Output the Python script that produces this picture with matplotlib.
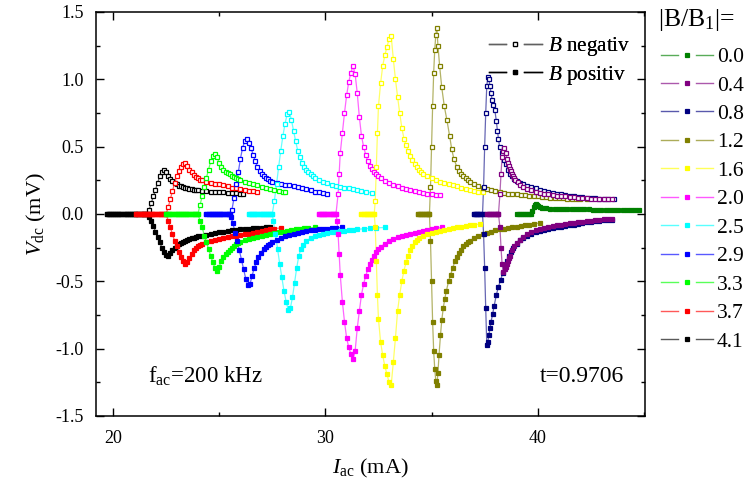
import matplotlib
matplotlib.use("Agg")
import matplotlib.pyplot as plt
from matplotlib.lines import Line2D
from matplotlib.legend_handler import HandlerBase
from matplotlib.ticker import MultipleLocator, FixedLocator
import matplotlib.colors as mcolors

plt.rcParams['font.family'] = ['Liberation Serif', 'DejaVu Serif']
plt.rcParams['mathtext.fontset'] = 'custom'
plt.rcParams['mathtext.rm'] = 'Liberation Serif'
plt.rcParams['mathtext.it'] = 'Liberation Serif:italic'
plt.rcParams['axes.unicode_minus'] = False

# |B/B1| levels and marker colours
levels = ['0.0', '0.4', '0.8', '1.2', '1.6', '2.0', '2.5', '2.9', '3.3', '3.7', '4.1']
colors = ['#008000', '#800080', '#000080', '#808000', '#ffff00', '#ff00ff',
          '#00ffff', '#0000ff', '#00ff00', '#ff0000', '#000000']

# ---- |B/B1| = 4.1 ----
i_neg_41 = [19.7, 19.8, 19.9, 20.0, 20.1, 20.2, 20.3, 20.4, 20.5, 20.6, 20.7, 20.8, 20.9, 21.0,
            21.1, 21.2, 21.3, 21.4, 21.5, 21.6, 21.7, 21.8, 21.9, 22.0, 22.1, 22.2, 22.3, 22.4,
            22.5, 22.6, 22.7, 22.8, 22.9, 23.0, 23.1, 23.2, 23.3, 23.4, 23.5, 23.6, 23.7, 23.8,
            23.9, 24.0, 24.2, 24.4, 24.6, 24.8, 25.0, 25.2, 25.4, 25.6, 25.8, 26.0, 26.1]
v_neg_41 = [0, 0, 0, 0, 0, 0, 0, 0, 0, 0, 0, 0, 0, 0,
            0, 0, 0, 0, 0, 0, 0.03, 0.08, 0.13, 0.18, 0.23, 0.28, 0.31, 0.33,
            0.31, 0.28, 0.26, 0.245, 0.23, 0.22, 0.21, 0.205, 0.20, 0.195, 0.19, 0.187, 0.184, 0.18,
            0.178, 0.176, 0.173, 0.17, 0.167, 0.165, 0.162, 0.16, 0.158, 0.156, 0.154, 0.152, 0.15]
i_pos_41 = [19.7, 19.8, 19.9, 20.0, 20.1, 20.2, 20.3, 20.4, 20.5, 20.6, 20.7, 20.8, 20.9, 21.0,
            21.1, 21.2, 21.3, 21.4, 21.5, 21.6, 21.7, 21.8, 21.9, 22.0, 22.1, 22.2, 22.3, 22.4,
            22.5, 22.6, 22.7, 22.8, 22.9, 23.0, 23.1, 23.2, 23.3, 23.4, 23.5, 23.6, 23.7, 23.8,
            23.9, 24.0, 24.2, 24.4, 24.6, 24.8, 25.0, 25.2, 25.4, 25.6, 25.8, 26.0, 26.2, 26.4,
            26.6, 26.8, 27.0, 27.2, 27.4]
v_pos_41 = [0, 0, 0, 0, 0, 0, 0, 0, 0, 0, 0, 0, 0, 0,
            0, 0, 0, 0, 0, 0, -0.02, -0.05, -0.09, -0.13, -0.17, -0.21, -0.25, -0.28,
            -0.305, -0.31, -0.29, -0.27, -0.25, -0.235, -0.225, -0.215, -0.205, -0.20, -0.19, -0.185, -0.18, -0.175,
            -0.17, -0.166, -0.16, -0.153, -0.147, -0.14, -0.135, -0.13, -0.125, -0.121, -0.118, -0.115, -0.112, -0.11,
            -0.107, -0.104, -0.102, -0.10, -0.10]

# ---- |B/B1| = 3.7 ----
i_neg_37 = [21.1, 21.2, 21.3, 21.4, 21.5, 21.6, 21.7, 21.8, 21.9, 22.0, 22.1, 22.2, 22.3, 22.4, 22.5,
            22.6, 22.7, 22.8, 22.9, 23.0, 23.1, 23.2, 23.3, 23.4, 23.5, 23.6, 23.7, 23.8, 23.9,
            24.0, 24.1, 24.2, 24.4, 24.6, 24.8, 25.0, 25.2, 25.4, 25.6, 25.8, 26.0, 26.2, 26.4,
            26.6, 26.8]
v_neg_37 = [0, 0, 0, 0, 0, 0, 0, 0, 0, 0, 0, 0, 0, 0, 0,
            0.05, 0.11, 0.17, 0.23, 0.28, 0.32, 0.35, 0.37, 0.38, 0.36, 0.33, 0.31, 0.29, 0.275,
            0.265, 0.255, 0.25, 0.24, 0.23, 0.225, 0.22, 0.215, 0.205, 0.195, 0.19, 0.182, 0.177, 0.172,
            0.168, 0.165]
i_pos_37 = [21.1, 21.2, 21.3, 21.4, 21.5, 21.6, 21.7, 21.8, 21.9, 22.0, 22.1, 22.2, 22.3, 22.4, 22.5,
            22.6, 22.7, 22.8, 22.9, 23.0, 23.1, 23.2, 23.3, 23.4, 23.5, 23.6, 23.7, 23.8, 23.9,
            24.0, 24.1, 24.2, 24.4, 24.6, 24.8, 25.0, 25.2, 25.4, 25.6, 25.8, 26.0, 26.2, 26.4,
            26.6, 26.8, 27.0, 27.2, 27.4, 27.6, 27.9]
v_pos_37 = [0, 0, 0, 0, 0, 0, 0, 0, 0, 0, 0, 0, 0, 0, 0,
            -0.05, -0.10, -0.15, -0.20, -0.24, -0.28, -0.32, -0.35, -0.37, -0.36, -0.33, -0.30, -0.27, -0.25,
            -0.24, -0.23, -0.22, -0.21, -0.20, -0.19, -0.182, -0.175, -0.17, -0.165, -0.16, -0.155, -0.15, -0.145,
            -0.14, -0.13, -0.125, -0.118, -0.112, -0.108, -0.104]

# ---- |B/B1| = 3.3 ----
i_neg_33 = [22.5, 22.6, 22.7, 22.8, 22.9, 23.0, 23.1, 23.2, 23.3, 23.4, 23.5, 23.6, 23.7, 23.8, 23.9, 24.0,
            24.1, 24.2, 24.3, 24.4, 24.5, 24.6, 24.7, 24.8, 24.9, 25.0, 25.1, 25.2, 25.3, 25.4,
            25.5, 25.6, 25.7, 25.8, 25.9, 26.0, 26.2, 26.4, 26.6, 26.8, 27.0, 27.2, 27.4, 27.6,
            27.8, 28.0, 28.1]
v_neg_33 = [0, 0, 0, 0, 0, 0, 0, 0, 0, 0, 0, 0, 0, 0, 0, 0,
            0.07, 0.13, 0.20, 0.27, 0.33, 0.39, 0.43, 0.445, 0.42, 0.38, 0.35, 0.33, 0.315, 0.305,
            0.295, 0.285, 0.275, 0.265, 0.258, 0.25, 0.24, 0.232, 0.222, 0.212, 0.203, 0.195, 0.188, 0.18,
            0.172, 0.165, 0.162]
i_pos_33 = [22.5, 22.6, 22.7, 22.8, 22.9, 23.0, 23.1, 23.2, 23.3, 23.4, 23.5, 23.6, 23.7, 23.8, 23.9, 24.0,
            24.1, 24.2, 24.3, 24.4, 24.5, 24.6, 24.7, 24.8, 24.9, 25.0, 25.1, 25.2, 25.3, 25.4,
            25.5, 25.6, 25.7, 25.8, 25.9, 26.0, 26.2, 26.4, 26.6, 26.8, 27.0, 27.2, 27.4, 27.6,
            27.8, 28.0, 28.2, 28.4, 28.6, 28.8, 29.0, 29.2, 29.5]
v_pos_33 = [0, 0, 0, 0, 0, 0, 0, 0, 0, 0, 0, 0, 0, 0, 0, 0,
            -0.05, -0.10, -0.16, -0.21, -0.26, -0.31, -0.36, -0.40, -0.42, -0.39, -0.35, -0.32, -0.295, -0.28,
            -0.27, -0.255, -0.24, -0.225, -0.215, -0.205, -0.195, -0.185, -0.175, -0.168, -0.16, -0.153, -0.147, -0.14,
            -0.135, -0.13, -0.125, -0.12, -0.115, -0.11, -0.107, -0.104, -0.10]

# ---- |B/B1| = 2.9 ----
i_neg_29 = [24.4, 24.5, 24.6, 24.7, 24.8, 24.9, 25.0, 25.1, 25.2, 25.3, 25.4, 25.5,
            25.6, 25.7, 25.8, 25.9, 26.0, 26.1, 26.2, 26.3, 26.4, 26.5, 26.6, 26.7, 26.8, 26.9,
            27.0, 27.1, 27.2, 27.3, 27.4, 27.5, 27.7, 27.9, 28.1, 28.3, 28.5, 28.7, 28.9, 29.1,
            29.3, 29.5, 29.7, 29.9, 30.1]
v_neg_29 = [0, 0, 0, 0, 0, 0, 0, 0, 0, 0, 0, 0,
            0.03, 0.12, 0.22, 0.31, 0.41, 0.49, 0.54, 0.555, 0.53, 0.49, 0.44, 0.39, 0.35, 0.32,
            0.30, 0.285, 0.27, 0.257, 0.248, 0.24, 0.232, 0.225, 0.218, 0.212, 0.207, 0.202, 0.195, 0.185,
            0.175, 0.167, 0.16, 0.155, 0.15]
i_pos_29 = [24.4, 24.5, 24.6, 24.7, 24.8, 24.9, 25.0, 25.1, 25.2, 25.3, 25.4, 25.5,
            25.55, 25.65, 25.75, 25.85, 25.95, 26.05, 26.15, 26.25, 26.35, 26.45, 26.55, 26.65, 26.75,
            26.85, 26.95, 27.1, 27.2, 27.3, 27.4, 27.5, 27.7, 27.9, 28.1, 28.3, 28.5, 28.7, 28.9,
            29.1, 29.3, 29.5, 29.7, 29.9, 30.1, 30.3, 30.5, 30.8]
v_pos_29 = [0, 0, 0, 0, 0, 0, 0, 0, 0, 0, 0, 0,
            -0.02, -0.07, -0.14, -0.20, -0.27, -0.34, -0.41, -0.48, -0.53, -0.52, -0.46, -0.40, -0.36,
            -0.32, -0.29, -0.26, -0.245, -0.23, -0.22, -0.21, -0.19, -0.178, -0.167, -0.158, -0.15, -0.142, -0.135,
            -0.128, -0.122, -0.118, -0.115, -0.112, -0.109, -0.106, -0.103, -0.10]

# ---- |B/B1| = 2.5 ----
i_neg_25 = [26.4, 26.5, 26.6, 26.7, 26.8, 26.9, 27.0, 27.1, 27.2, 27.3, 27.4, 27.5,
            27.6, 27.7, 27.8, 27.9, 28.0, 28.1, 28.2, 28.3, 28.4, 28.5, 28.6, 28.7, 28.8, 28.9,
            29.0, 29.1, 29.2, 29.3, 29.4, 29.5, 29.7, 29.9, 30.1, 30.3, 30.5, 30.7, 30.9, 31.1,
            31.3, 31.5, 31.7, 31.9, 32.2]
v_neg_25 = [0, 0, 0, 0, 0, 0, 0, 0, 0, 0, 0, 0,
            0.10, 0.22, 0.35, 0.47, 0.58, 0.67, 0.74, 0.76, 0.70, 0.62, 0.54, 0.47, 0.42, 0.38,
            0.35, 0.33, 0.31, 0.295, 0.28, 0.27, 0.25, 0.24, 0.228, 0.218, 0.21, 0.203, 0.196, 0.19,
            0.183, 0.177, 0.17, 0.164, 0.157]
i_pos_25 = [26.4, 26.5, 26.6, 26.7, 26.8, 26.9, 27.0, 27.1, 27.2, 27.3, 27.4, 27.5,
            27.55, 27.65, 27.75, 27.85, 27.95, 28.05, 28.15, 28.25, 28.35, 28.45, 28.55, 28.65,
            28.75, 28.85, 28.95, 29.1, 29.3, 29.5, 29.7, 29.9, 30.1, 30.3, 30.5, 30.7, 30.9, 31.1,
            31.3, 31.5, 31.8, 32.1, 32.4, 32.8]
v_pos_25 = [0, 0, 0, 0, 0, 0, 0, 0, 0, 0, 0, 0,
            -0.05, -0.15, -0.26, -0.37, -0.47, -0.57, -0.65, -0.71, -0.70, -0.62, -0.51, -0.40,
            -0.31, -0.26, -0.23, -0.20, -0.18, -0.165, -0.155, -0.148, -0.142, -0.137, -0.133, -0.128, -0.124, -0.12,
            -0.117, -0.114, -0.11, -0.106, -0.103, -0.10]

# ---- |B/B1| = 2.0 ----
i_neg_20 = [29.7, 29.8, 29.9, 30.0, 30.1, 30.2, 30.3, 30.4, 30.5,
            30.6, 30.65, 30.7, 30.8, 30.9, 31.0, 31.1, 31.2, 31.3, 31.4, 31.5, 31.6, 31.7, 31.8,
            31.9, 32.0, 32.1, 32.2, 32.3, 32.4, 32.5, 32.6, 32.8, 33.0, 33.2, 33.4, 33.6, 33.8,
            34.0, 34.2, 34.4, 34.6, 34.8, 35.0, 35.2, 35.4]
v_neg_20 = [0, 0, 0, 0, 0, 0, 0, 0, 0,
            0.15, 0.30, 0.45, 0.60, 0.75, 0.88, 0.98, 1.05, 1.10, 1.04, 0.90, 0.72, 0.58, 0.50,
            0.44, 0.39, 0.36, 0.335, 0.315, 0.295, 0.28, 0.265, 0.245, 0.23, 0.215, 0.205, 0.195, 0.185,
            0.177, 0.17, 0.163, 0.157, 0.152, 0.147, 0.143, 0.14]
i_pos_20 = [29.7, 29.8, 29.9, 30.0, 30.1, 30.2, 30.3, 30.4, 30.5,
            30.55, 30.6, 30.65, 30.7, 30.8, 30.9, 31.0, 31.1, 31.2, 31.3, 31.4, 31.5, 31.6, 31.7,
            31.8, 31.9, 32.0, 32.1, 32.2, 32.3, 32.4, 32.5, 32.6, 32.8, 33.0, 33.2, 33.4, 33.6,
            33.8, 34.0, 34.2, 34.4, 34.6, 34.8, 35.0, 35.2, 35.5]
v_pos_20 = [0, 0, 0, 0, 0, 0, 0, 0, 0,
            -0.05, -0.15, -0.30, -0.45, -0.65, -0.80, -0.92, -0.99, -1.04, -1.08, -1.02, -0.85, -0.72, -0.60,
            -0.52, -0.46, -0.41, -0.37, -0.34, -0.31, -0.28, -0.26, -0.245, -0.22, -0.20, -0.185, -0.173, -0.163,
            -0.153, -0.145, -0.138, -0.132, -0.126, -0.12, -0.113, -0.107, -0.10]

# ---- |B/B1| = 1.6 ----
i_neg_16 = [31.7, 31.8, 31.9, 32.0, 32.1, 32.2, 32.3,
            32.35, 32.4, 32.45, 32.5, 32.6, 32.7, 32.8, 32.9, 33.0, 33.1, 33.2, 33.3, 33.4, 33.5,
            33.6, 33.7, 33.8, 33.9, 34.0, 34.1, 34.2, 34.3, 34.4, 34.5, 34.6, 34.8, 35.0, 35.2,
            35.4, 35.6, 35.8, 36.0, 36.2, 36.4, 36.6, 36.8, 37.0, 37.2, 37.4]
v_neg_16 = [0, 0, 0, 0, 0, 0, 0,
            0.10, 0.35, 0.60, 0.80, 0.97, 1.10, 1.18, 1.24, 1.30, 1.32, 1.15, 1.00, 0.87, 0.75,
            0.64, 0.56, 0.51, 0.47, 0.43, 0.40, 0.37, 0.35, 0.33, 0.315, 0.30, 0.28, 0.265, 0.25,
            0.24, 0.233, 0.225, 0.215, 0.205, 0.196, 0.188, 0.18, 0.173, 0.166, 0.16]
i_pos_16 = [31.7, 31.8, 31.9, 32.0, 32.1, 32.2, 32.3,
            32.35, 32.4, 32.45, 32.5, 32.6, 32.7, 32.8, 32.9, 33.0, 33.1, 33.2, 33.3, 33.4, 33.5,
            33.6, 33.7, 33.8, 33.9, 34.0, 34.1, 34.2, 34.3, 34.4, 34.6, 34.8, 35.0, 35.2, 35.4,
            35.6, 35.8, 36.0, 36.2, 36.4, 36.6, 36.8, 37.0, 37.3]
v_pos_16 = [0, 0, 0, 0, 0, 0, 0,
            -0.10, -0.35, -0.60, -0.78, -0.95, -1.05, -1.13, -1.19, -1.25, -1.27, -1.10, -0.92, -0.72, -0.60,
            -0.50, -0.42, -0.36, -0.31, -0.27, -0.24, -0.21, -0.19, -0.178, -0.16, -0.148, -0.138, -0.13, -0.123,
            -0.117, -0.11, -0.104, -0.098, -0.093, -0.088, -0.084, -0.08, -0.075]

# ---- |B/B1| = 1.2 ----
i_neg_12 = [34.35, 34.45, 34.55, 34.65, 34.75, 34.85, 34.9,
            34.95, 35.0, 35.05, 35.1, 35.15, 35.2, 35.25, 35.3, 35.38, 35.48, 35.6, 35.72, 35.85,
            35.95, 36.05, 36.19, 36.3, 36.4, 36.5, 36.6, 36.7, 36.8, 37.0, 37.2, 37.4, 37.6, 37.8,
            38.0, 38.2, 38.4, 38.6, 38.8, 39.0, 39.2, 39.4, 39.6, 39.8, 40.0, 40.2, 40.4, 40.6,
            40.8, 41.0, 41.2, 41.4, 41.6, 41.8, 42.0, 42.3]
v_neg_12 = [0, 0, 0, 0, 0, 0, 0,
            0.20, 0.50, 0.80, 1.05, 1.22, 1.33, 1.38, 1.25, 1.10, 0.94, 0.80, 0.70, 0.58,
            0.48, 0.41, 0.35, 0.32, 0.30, 0.28, 0.265, 0.25, 0.24, 0.225, 0.205, 0.195, 0.185, 0.177,
            0.17, 0.163, 0.157, 0.152, 0.148, 0.145, 0.142, 0.139, 0.136, 0.133, 0.13, 0.127, 0.125, 0.122,
            0.12, 0.118, 0.117, 0.115, 0.114, 0.113, 0.112, 0.11]
i_pos_12 = [34.35, 34.45, 34.55, 34.65, 34.75, 34.85, 34.9,
            34.95, 35.0, 35.05, 35.1, 35.15, 35.2, 35.25, 35.3, 35.35, 35.42, 35.48, 35.55, 35.62,
            35.7, 35.8, 35.9, 36.0, 36.1, 36.2, 36.3, 36.4, 36.5, 36.6, 36.7, 36.8, 37.0, 37.2,
            37.4, 37.6, 37.8, 38.0, 38.2, 38.4, 38.6, 38.8, 39.0, 39.2, 39.4, 39.6, 39.8, 40.1]
v_pos_12 = [0, 0, 0, 0, 0, 0, 0,
            -0.20, -0.50, -0.80, -1.02, -1.15, -1.24, -1.27, -1.18, -1.05, -0.90, -0.79, -0.70, -0.63,
            -0.57, -0.50, -0.45, -0.40, -0.35, -0.32, -0.29, -0.265, -0.24, -0.225, -0.21, -0.20, -0.18, -0.165,
            -0.152, -0.14, -0.13, -0.122, -0.115, -0.108, -0.103, -0.098, -0.093, -0.088, -0.083, -0.078, -0.073, -0.067]

# ---- |B/B1| = 0.8 ----
i_neg_08 = [37.0, 37.1, 37.2, 37.3, 37.4,
            37.45, 37.5, 37.55, 37.6, 37.65, 37.7, 37.75, 37.8, 37.85, 37.9, 37.98, 38.05, 38.1,
            38.15, 38.2, 38.3, 38.4, 38.5, 38.6, 38.7, 38.8, 38.9, 39.0, 39.15, 39.3, 39.5, 39.7,
            39.9, 40.1, 40.3, 40.5, 40.7, 40.9, 41.1, 41.3, 41.5, 41.7, 41.9, 42.1, 42.3, 42.5,
            42.7, 42.9, 43.1, 43.3, 43.6]
v_neg_08 = [0, 0, 0, 0, 0,
            0.20, 0.50, 0.75, 0.95, 1.02, 1.00, 0.95, 0.90, 0.85, 0.81, 0.77, 0.69, 0.62,
            0.56, 0.50, 0.45, 0.40, 0.37, 0.33, 0.30, 0.28, 0.26, 0.245, 0.23, 0.22, 0.21, 0.20,
            0.19, 0.18, 0.17, 0.162, 0.155, 0.15, 0.145, 0.14, 0.135, 0.132, 0.128, 0.125, 0.122, 0.12,
            0.117, 0.115, 0.113, 0.111, 0.11]
i_pos_08 = [37.0, 37.1, 37.2, 37.3, 37.4,
            37.45, 37.5, 37.55, 37.6, 37.65, 37.7, 37.75, 37.8, 37.88, 37.95, 38.05, 38.15, 38.25,
            38.35, 38.45, 38.55, 38.65, 38.75, 38.85, 39.0, 39.15, 39.3, 39.5, 39.7, 39.9, 40.1,
            40.3, 40.5, 40.7, 40.9, 41.1, 41.3, 41.5, 41.7, 41.9, 42.1, 42.3, 42.5, 42.7, 42.9,
            43.1, 43.3, 43.5]
v_pos_08 = [0, 0, 0, 0, 0,
            -0.15, -0.40, -0.70, -0.97, -0.95, -0.90, -0.85, -0.80, -0.74, -0.68, -0.60, -0.54, -0.49,
            -0.44, -0.39, -0.35, -0.31, -0.28, -0.25, -0.22, -0.19, -0.175, -0.16, -0.145, -0.135, -0.125,
            -0.117, -0.11, -0.104, -0.098, -0.093, -0.088, -0.083, -0.078, -0.073, -0.068, -0.063, -0.058, -0.054, -0.05,
            -0.047, -0.045, -0.043]

# ---- |B/B1| = 0.4 ----
i_neg_04 = [37.6, 37.7, 37.8, 37.9, 38.0, 38.1, 38.15,
            38.22, 38.27, 38.32, 38.37, 38.42, 38.5, 38.55, 38.6, 38.65, 38.7, 38.75, 38.8, 38.85,
            38.9, 38.95, 39.05, 39.15, 39.3, 39.5, 39.7, 39.9, 40.1, 40.3, 40.5, 40.7, 40.9, 41.1,
            41.3, 41.5, 41.7, 41.9, 42.1, 42.3, 42.5, 42.7, 42.9, 43.1, 43.3, 43.5]
v_neg_04 = [0, 0, 0, 0, 0, 0, 0,
            0.15, 0.30, 0.42, 0.47, 0.49, 0.45, 0.41, 0.38, 0.355, 0.335, 0.32, 0.30, 0.28,
            0.265, 0.25, 0.235, 0.215, 0.20, 0.185, 0.175, 0.165, 0.158, 0.152, 0.147, 0.142, 0.137, 0.133,
            0.13, 0.127, 0.124, 0.121, 0.119, 0.117, 0.115, 0.113, 0.112, 0.111, 0.11, 0.11]
i_pos_04 = [37.6, 37.7, 37.8, 37.9, 38.0, 38.1, 38.15,
            38.22, 38.27, 38.32, 38.38, 38.45, 38.5, 38.55, 38.6, 38.65, 38.7, 38.8, 38.9, 39.0,
            39.15, 39.3, 39.5, 39.7, 39.9, 40.1, 40.3, 40.5, 40.7, 40.9, 41.1, 41.3, 41.5, 41.7,
            41.9, 42.1, 42.3, 42.5, 42.7, 42.9, 43.1, 43.3, 43.5]
v_pos_04 = [0, 0, 0, 0, 0, 0, 0,
            -0.10, -0.25, -0.37, -0.43, -0.41, -0.39, -0.37, -0.35, -0.33, -0.31, -0.27, -0.24, -0.215,
            -0.19, -0.17, -0.15, -0.135, -0.122, -0.112, -0.104, -0.097, -0.09, -0.084, -0.078, -0.073, -0.068, -0.064,
            -0.06, -0.056, -0.052, -0.049, -0.046, -0.043, -0.04, -0.038, -0.035]

# ---- |B/B1| = 0.0 ----
i_00 = [39.0, 39.1, 39.2, 39.3, 39.4, 39.5, 39.6, 39.7, 39.75, 39.8, 39.85, 39.9, 39.95, 40.0,
        40.1, 40.2, 40.4, 40.6, 40.8, 41.0, 41.2, 41.4, 41.6, 41.8, 42.0, 42.2, 42.4, 42.6,
        42.8, 43.0, 43.2, 43.4, 43.6, 43.8, 44.0, 44.2, 44.4, 44.6, 44.75]
v_00 = [0, 0, 0, 0, 0, 0, 0, 0, 0.02, 0.05, 0.07, 0.075, 0.07, 0.06,
        0.05, 0.045, 0.042, 0.04, 0.039, 0.038, 0.037, 0.036, 0.036, 0.035, 0.035, 0.034, 0.034, 0.033,
        0.033, 0.032, 0.032, 0.032, 0.031, 0.031, 0.031, 0.03, 0.03, 0.03, 0.03]

curves = {
    '4.1': (i_neg_41, v_neg_41, i_pos_41, v_pos_41),
    '3.7': (i_neg_37, v_neg_37, i_pos_37, v_pos_37),
    '3.3': (i_neg_33, v_neg_33, i_pos_33, v_pos_33),
    '2.9': (i_neg_29, v_neg_29, i_pos_29, v_pos_29),
    '2.5': (i_neg_25, v_neg_25, i_pos_25, v_pos_25),
    '2.0': (i_neg_20, v_neg_20, i_pos_20, v_pos_20),
    '1.6': (i_neg_16, v_neg_16, i_pos_16, v_pos_16),
    '1.2': (i_neg_12, v_neg_12, i_pos_12, v_pos_12),
    '0.8': (i_neg_08, v_neg_08, i_pos_08, v_pos_08),
    '0.4': (i_neg_04, v_neg_04, i_pos_04, v_pos_04),
    '0.0': (i_00, v_00, i_00, v_00),
}


def lighten(c, f=0.4):
    r, g, b = mcolors.to_rgb(c)
    return (r + (1 - r) * f, g + (1 - g) * f, b + (1 - b) * f)


MS = 3.4
fig = plt.figure(figsize=(7.49, 4.87), dpi=100)
ax = fig.add_axes([96 / 749, 1 - 416 / 487, 549 / 749, 404 / 487])

color_of = dict(zip(levels, colors))
for lev in reversed(levels):
    c = color_of[lev]
    ineg, vneg, ipos, vpos = curves[lev]
    lc = lighten(c)
    if lev != '0.0':
        ax.plot(ineg, vneg, '-', color=lc, lw=0.9, zorder=2)
        ax.plot(ineg, vneg, 's', ms=MS, mfc='white', mec=c, mew=0.9, ls='none', zorder=3)
    ax.plot(ipos, vpos, '-', color=lc, lw=0.9, zorder=2)
    ax.plot(ipos, vpos, 's', ms=MS, mfc=c, mec=c, mew=0.9, ls='none', zorder=3)

ax.set_xlim(19.2, 45.05)
ax.set_ylim(-1.5, 1.5)
ax.xaxis.set_major_locator(FixedLocator([20, 30, 40]))
ax.xaxis.set_minor_locator(FixedLocator([25, 35, 45]))
ax.yaxis.set_major_locator(MultipleLocator(0.5))
ax.yaxis.set_minor_locator(MultipleLocator(0.25))
ax.set_yticks([-1.5, -1.0, -0.5, 0.0, 0.5, 1.0, 1.5])
ax.set_yticklabels(['-1.5', '-1.0', '-0.5', '0.0', '0.5', '1.0', '1.5'])
ax.tick_params(which='both', direction='in', top=True, right=True, labelsize=13, width=1.0)
ax.tick_params(axis='y', which='major', pad=9)
ax.tick_params(axis='x', which='major', pad=10)
ax.tick_params(which='major', length=6)
ax.tick_params(which='minor', length=3)
for s in ax.spines.values():
    s.set_linewidth(1.1)

ax.set_xlabel(r'$I_{\mathrm{ac}}$ (mA)', fontsize=16)
ax.set_ylabel(r'$V_{\mathrm{dc}}$ (mV)', fontsize=16)
ax.xaxis.set_label_coords(0.5, -0.102)
ax.yaxis.set_label_coords(-0.088, 0.5)

fig.text(148 / 749, 1 - 376 / 487, r'$\mathrm{f_{ac}}$=200 kHz', fontsize=16.5, va='center')
fig.text(540 / 749, 1 - 376 / 487, 't=0.9706', fontsize=17, va='center')


class GapLineHandler(HandlerBase):
    def create_artists(self, legend, orig, xdescent, ydescent, width, height, fontsize, trans):
        y = height / 2 - ydescent
        x0 = -xdescent
        lc = orig.get_color()
        l1 = Line2D([x0, x0 + 0.33 * width], [y, y], color=lc, lw=orig.get_linewidth())
        l2 = Line2D([x0 + 0.67 * width, x0 + width], [y, y], color=lc, lw=orig.get_linewidth())
        m = Line2D([x0 + 0.5 * width], [y], ls='none', marker='s', ms=orig.get_markersize(),
                   mfc=orig.get_markerfacecolor(), mec=orig.get_markeredgecolor(), mew=0.9)
        for a in (l1, l2, m):
            a.set_transform(trans)
        return [l1, l2, m]


# B sign legend
sign_handles = [
    Line2D([], [], color='#606060', lw=1.0, marker='s', ms=MS, mfc='white', mec='black'),
    Line2D([], [], color='black', lw=1.0, marker='s', ms=MS, mfc='black', mec='black'),
]
leg1 = ax.legend(sign_handles, [r'$B$ negativ', r'$B$ positiv'],
                 handler_map={Line2D: GapLineHandler()},
                 loc='upper left', bbox_to_anchor=(489 / 749, 1 - 35 / 487),
                 bbox_transform=fig.transFigure, frameon=False, fontsize=15.2,
                 handlelength=2.5, handletextpad=0.3, labelspacing=0.27, borderpad=0, borderaxespad=0)
ax.add_artist(leg1)

# |B/B1| legend: header text plus one entry per level
fig.text(658 / 749, 1 - 20 / 487, r'|B/B$_1$|=', fontsize=18.5, va='center')
lev_handles = [Line2D([], [], color=lighten(c, 0.35), lw=1.0, marker='s', ms=MS, mfc=c, mec=c)
               for c in colors]
leg2 = fig.legend(lev_handles, levels, handler_map={Line2D: GapLineHandler()},
                  loc='upper left', bbox_to_anchor=(661 / 749, 1 - 47 / 487),
                  frameon=False, fontsize=15.5,
                  handlelength=2.4, handletextpad=0.2, labelspacing=0.39, borderpad=0,
                  borderaxespad=0)

fig.savefig('out.png', dpi=100)
